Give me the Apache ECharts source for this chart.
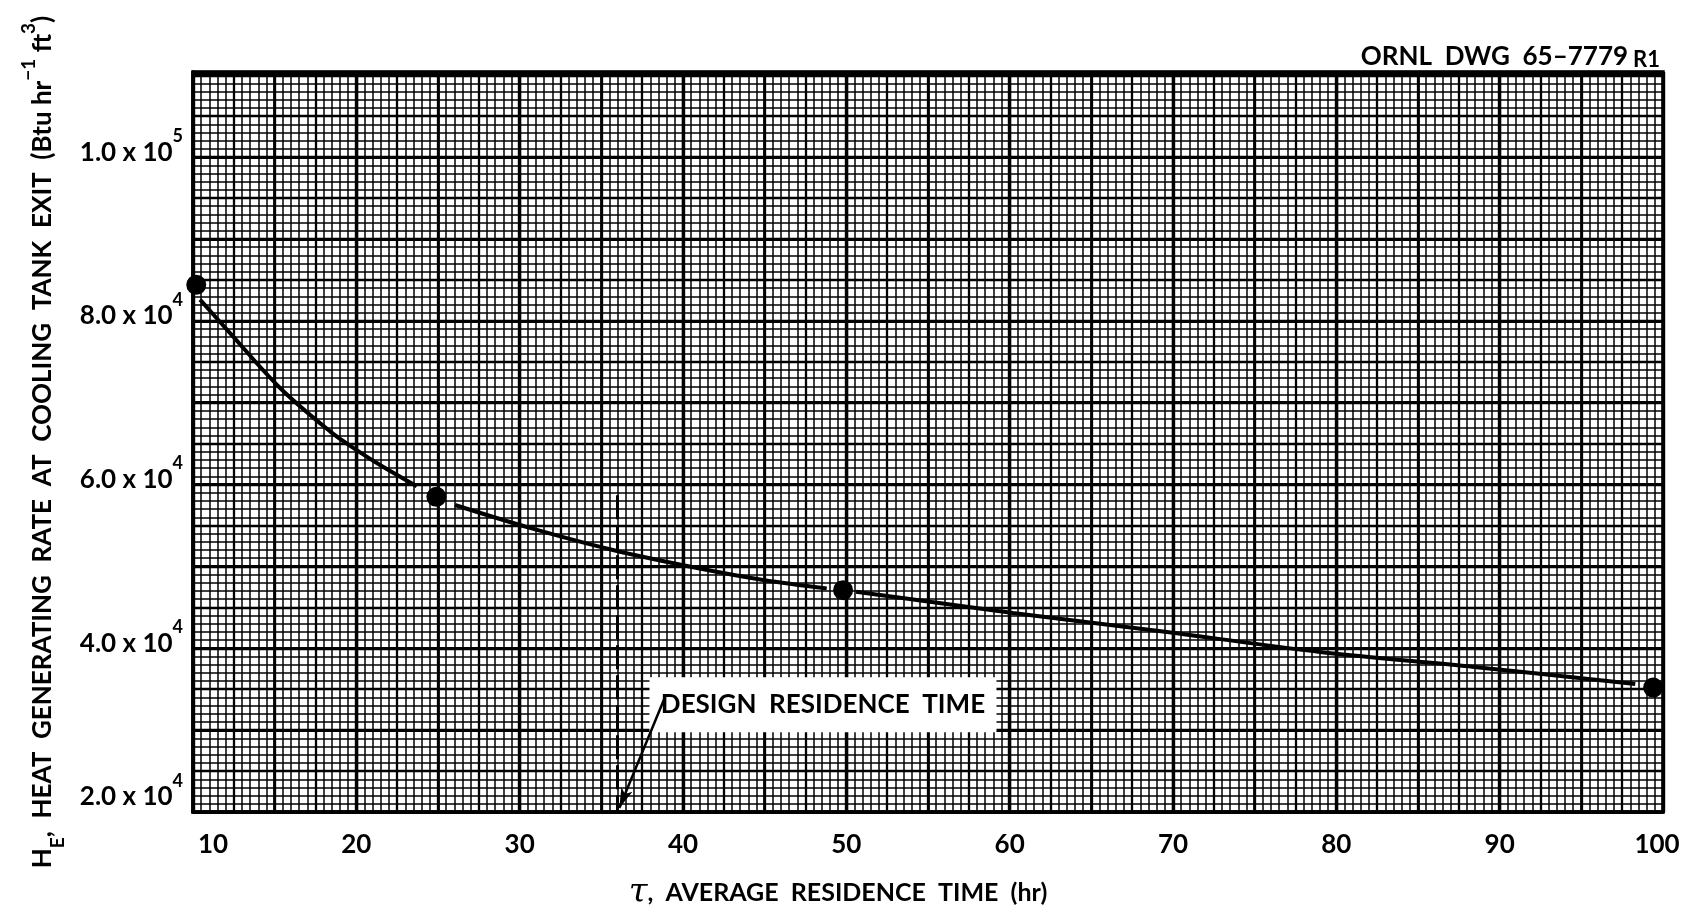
<!DOCTYPE html>
<html><head><meta charset="utf-8">
<script src="https://cdn.jsdelivr.net/npm/echarts@6/dist/echarts.min.js"></script>
<style>html,body{margin:0;padding:0;background:#fff}#c{width:1682px;height:907px}</style>
</head><body><div id="c"></div>
<script>
// ---- data ----
const xTickValues = [10, 20, 30, 40, 50, 60, 70, 80, 90, 100];
const yTickValues = [20000, 40000, 60000, 80000, 100000];
const yTickMant = ['2.0', '4.0', '6.0', '8.0', '1.0'];
const yTickExp = ['4', '4', '4', '4', '5'];

const pointX = [10.2, 24.9, 49.8, 99.4];
const pointY = [84400, 58500, 47100, 35200];

const curveAX = [10.43, 12.27, 15.33, 18.39, 20.02, 21.45, 23.70];
const curveAY = [82600, 78500, 71800, 66500, 64200, 62400, 59800];
const curveBX = [26.04, 30.63, 35.71, 40.86, 44.90, 48.80];
const curveBY = [57500, 54700, 52000, 49800, 48350, 47320];
const curveCX = [50.60, 52.06, 60.20, 69.63, 79.00, 88.43, 98.30];
const curveCY = [46900, 46520, 44320, 42000, 39550, 37720, 35650];

const designTime = 36;
const designLineTop = 58700;
const arrowFrom = [38.9, 34050];
const arrowTo = [36.1, 20500];
const noteCoord = [48.57, 33100];
const noteText = 'DESIGN  RESIDENCE  TIME';

const xMin = 10, xMax = 100, yMin = 20000, yMax = 110400;

// ---- chart ----
const F = 'Lato, "Open Sans", "DejaVu Sans", sans-serif';
const zip = (a, b) => a.map((v, i) => [v, b[i]]);
const txt = (size, extra) => Object.assign({ fontSize: size, fontWeight: 'bold', fontFamily: F, color: '#000' }, extra || {});

function layerX(interval, width) {
  return { type: 'value', min: xMin, max: xMax, interval: interval, position: 'bottom',
    axisLine: { show: false }, axisTick: { show: false }, axisLabel: { show: false },
    splitLine: { show: true, lineStyle: { color: '#000', width: width } } };
}
function layerY(interval, width) {
  return { type: 'value', min: yMin, max: yMax, interval: interval, position: 'left',
    axisLine: { show: false }, axisTick: { show: false }, axisLabel: { show: false },
    splitLine: { show: true, lineStyle: { color: '#000', width: width } } };
}

const option = {
  backgroundColor: '#fff',
  animation: false,
  title: {
    text: '{a|ORNL  DWG  65–7779} {b|R1}',
    right: 17, top: 38,
    textStyle: { rich: { a: txt(26), b: txt(22, { padding: [6, 0, 0, 0] }) } }
  },
  grid: { left: 193, top: 72, right: 19, bottom: 95, outerBoundsMode: 'none', containLabel: false,
    show: true, borderColor: '#000', borderWidth: 3.5, backgroundColor: '#fff' },
  xAxis: [
    {
      type: 'value', min: xMin, max: xMax, interval: 10, position: 'bottom',
      axisLine: { show: true, onZero: false, lineStyle: { color: '#000', width: 3.5 } },
      axisTick: { show: false },
      axisLabel: {
        margin: 20, color: '#000', fontSize: 26, fontWeight: 'bold', fontFamily: F,
        formatter: v => xTickValues.indexOf(v) < 0 ? '' : (v === 10 ? '{f|10}' : v === 100 ? '{l|100}' : '{m|' + v + '}'),
        rich: { f: txt(26, { padding: [0, 0, 0, 40] }), l: txt(26, { padding: [0, 12, 0, 0] }), m: txt(26) }
      },
      splitLine: { show: true, lineStyle: { color: '#000', width: 3.4 } },
      name: '{tau|τ}{t|,  AVERAGE  RESIDENCE  TIME  (hr)}',
      nameLocation: 'middle', nameGap: 64,
      nameTextStyle: {
        padding: [0, 180, 0, 0],
        rich: { tau: { fontSize: 34, fontStyle: 'italic', fontFamily: '"DejaVu Serif", serif', color: '#000' }, t: txt(25) }
      }
    },
    layerX(5, 2.8), layerX(2.5, 2.3), layerX(0.5, 1.5)
  ],
  yAxis: [
    {
      type: 'value', min: yMin, max: yMax, interval: 10000, position: 'left',
      axisLine: { show: true, onZero: false, lineStyle: { color: '#000', width: 3.5 } },
      axisTick: { show: false },
      axisLabel: {
        margin: 10, padding: [0, 0, 10, 0],
        formatter: v => {
          const i = yTickValues.indexOf(v);
          if (i < 0) return '';
          let s = '{n|' + yTickMant[i] + ' x 10}{s|' + yTickExp[i] + '}';
          if (i === 0) s += '\n{g| }';
          return s;
        },
        rich: { n: txt(26, { lineHeight: 50 }), s: txt(18, { lineHeight: 18, verticalAlign: 'top' }), g: { fontSize: 2, lineHeight: 20 } }
      },
      splitLine: { show: true, lineStyle: { color: '#000', width: 3.2 } },
      name: '{t|H}{sub|E}{t|,  HEAT  GENERATING  RATE  AT  COOLING  TANK  EXIT  (Btu hr}{sup|−1}{t| ft}{sup|3}{t|)}',
      nameLocation: 'middle', nameRotate: 90, nameGap: 126,
      nameTextStyle: {
        rich: {
          t: txt(26, { lineHeight: 48 }),
          sub: txt(19, { lineHeight: 12, verticalAlign: 'bottom' }),
          sup: txt(19, { lineHeight: 24, verticalAlign: 'top' })
        }
      }
    },
    layerY(5000, 2.3), layerY(1000, 1.5)
  ],
  series: [
    { type: 'line', data: zip(curveAX, curveAY), smooth: 0.35, symbol: 'none', silent: true, z: 5, lineStyle: { color: '#000', width: 4 } },
    { type: 'line', data: zip(curveBX, curveBY), smooth: 0.35, symbol: 'none', silent: true, z: 5, lineStyle: { color: '#000', width: 4 } },
    {
      type: 'line', data: zip(curveCX, curveCY), smooth: 0.35, symbol: 'none', silent: true, z: 5, lineStyle: { color: '#000', width: 4 },
      markLine: {
        silent: true, z: 10, symbol: ['none', 'none'], label: { show: false }, emphasis: { disabled: true },
        data: [
          [
            { coord: [designTime, designLineTop], lineStyle: { type: [24, 6], width: 3, color: '#000' } },
            { coord: [designTime, yMin], lineStyle: { type: [24, 6], width: 3, color: '#000' } }
          ],
          [
            { coord: arrowFrom, symbol: 'none', lineStyle: { type: 'solid', width: 2.5, color: '#000', curveness: -0.15 } },
            { coord: arrowTo, symbol: 'arrow', symbolSize: [9, 20], lineStyle: { type: 'solid', width: 2.5, color: '#000', curveness: -0.15 } }
          ]
        ]
      }
    },
    {
      type: 'scatter', data: zip(pointX, pointY), symbolSize: 20, silent: true, z: 6, itemStyle: { color: '#000', opacity: 1 },
      markPoint: {
        silent: true, z: 4, symbol: 'rect', symbolSize: [347, 55], itemStyle: { color: '#fff' },
        label: { show: true, position: 'inside', formatter: noteText, color: '#000', fontSize: 26, fontWeight: 'bold', fontFamily: F },
        data: [{ coord: noteCoord }]
      }
    }
  ]
};

const chart = echarts.init(document.getElementById('c'), null, { renderer: 'canvas' });
chart.setOption(option);
</script>
</body></html>
